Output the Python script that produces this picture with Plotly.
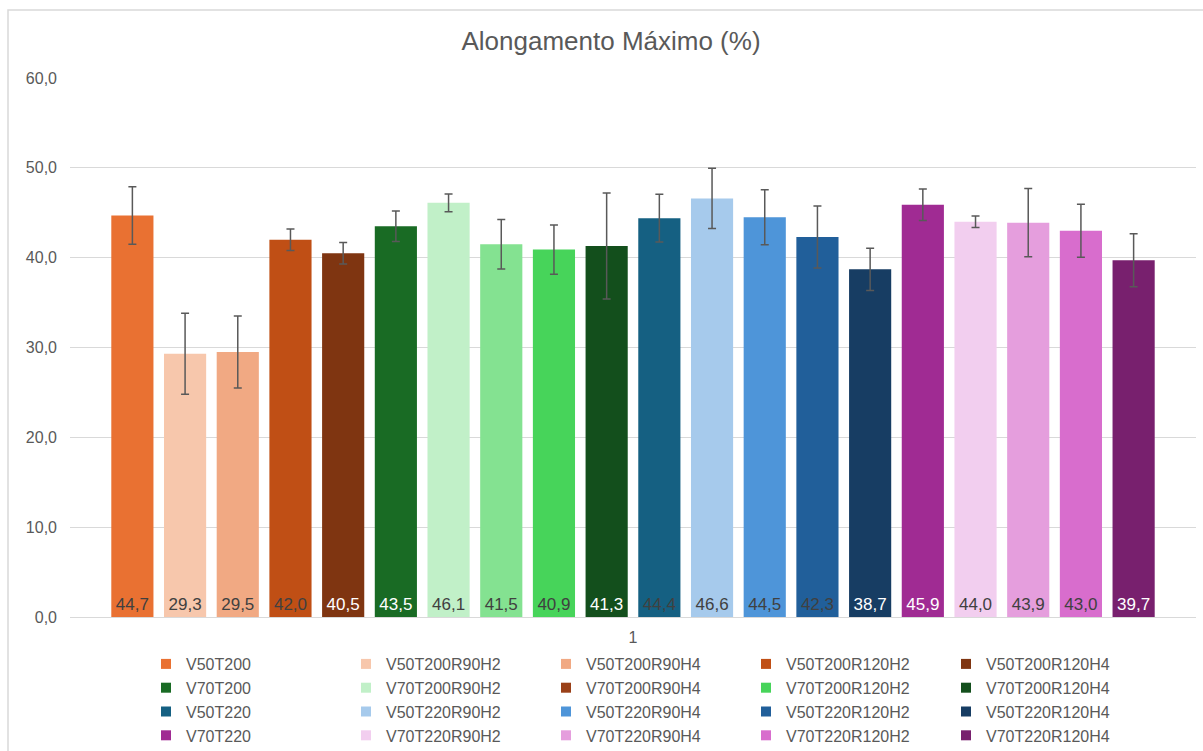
import plotly.graph_objects as go

categories = ["1"]
series_names = [
    "V50T200", "V50T200R90H2", "V50T200R90H4", "V50T200R120H2", "V50T200R120H4",
    "V70T200", "V70T200R90H2", "V70T200R90H4", "V70T200R120H2", "V70T200R120H4",
    "V50T220", "V50T220R90H2", "V50T220R90H4", "V50T220R120H2", "V50T220R120H4",
    "V70T220", "V70T220R90H2", "V70T220R90H4", "V70T220R120H2", "V70T220R120H4",
]
values = [44.7, 29.3, 29.5, 42.0, 40.5,
          43.5, 46.1, 41.5, 40.9, 41.3,
          44.4, 46.6, 44.5, 42.3, 38.7,
          45.9, 44.0, 43.9, 43.0, 39.7]
errors = [3.2, 4.5, 4.0, 1.2, 1.2,
          1.7, 1.0, 2.75, 2.75, 5.9,
          2.65, 3.35, 3.05, 3.45, 2.35,
          1.75, 0.65, 3.8, 2.95, 2.95]
bar_colors = ["#E97132", "#F7C7AC", "#F1A983", "#C04F15", "#7F3511",
              "#196B24", "#C1F0C8", "#84E291", "#47D45A", "#134F1C",
              "#156082", "#A6CAEC", "#4E95D9", "#215F9A", "#173D63",
              "#A02B93", "#F2CEEF", "#E59EDD", "#D86DCD", "#78206E"]
legend_colors = ["#E97132", "#F7C7AC", "#F1A983", "#C04F15", "#7F3511",
                 "#196B24", "#C1F0C8", "#9A4018", "#47D45A", "#134F1C",
                 "#156082", "#A6CAEC", "#4E95D9", "#215F9A", "#173D63",
                 "#A02B93", "#F2CEEF", "#E59EDD", "#D86DCD", "#78206E"]
label_colors = ["#404040", "#404040", "#404040", "#404040", "#FFFFFF",
                "#FFFFFF", "#404040", "#404040", "#404040", "#FFFFFF",
                "#404040", "#404040", "#404040", "#404040", "#FFFFFF",
                "#FFFFFF", "#404040", "#404040", "#404040", "#FFFFFF"]
y_ticks = [0, 10, 20, 30, 40, 50, 60]

FONT = "Liberation Sans, Arial, sans-serif"
GRAY = "#595959"

fig = go.Figure()
for name, v, e, c, lc in zip(series_names, values, errors, bar_colors, label_colors):
    fig.add_trace(go.Bar(
        x=categories, y=[v], name=name, showlegend=False,
        marker=dict(color=c, line=dict(width=0)),
        error_y=dict(type="data", array=[e], color=GRAY, thickness=1.5, width=4),
        text=[v], texttemplate="%{y:.1f}", textposition="inside",
        insidetextanchor="start", textangle=0,
        textfont=dict(color=lc, size=17, family=FONT),
    ))
for name, c in zip(series_names, legend_colors):
    fig.add_trace(go.Scatter(
        x=[None], y=[None], mode="markers", name=name,
        marker=dict(symbol="square", size=10, color=c),
        showlegend=True,
    ))

fig.update_layout(
    width=1203, height=751,
    margin=dict(l=70, r=7, t=78, b=134, autoexpand=False),
    paper_bgcolor="white", plot_bgcolor="white",
    separators=",.",
    barmode="group", bargap=0.064, bargroupgap=0.2,
    font=dict(family=FONT, color=GRAY, size=16),
    title=dict(text="Alongamento Máximo (%)", x=611 / 1203, xanchor="center",
               y=1 - 41 / 751, yanchor="middle", yref="container",
               font=dict(size=26, color=GRAY, family=FONT)),
    legend=dict(orientation="h", x=(146 - 70) / 1126, xanchor="left",
                y=1 - 647 / 751, yanchor="top", yref="container",
                entrywidth=155, entrywidthmode="pixels",
                font=dict(size=16, color=GRAY, family=FONT),
                traceorder="normal"),
    showlegend=True,
)
fig.update_xaxes(type="category", showgrid=False, showline=True,
                 linecolor="#D9D9D9", linewidth=1, automargin=False,
                 ticklabelstandoff=6,
                 tickfont=dict(size=16, color=GRAY), ticks="")
fig.update_yaxes(range=[0, 60], tickvals=y_ticks, tickformat=".1f",
                 showgrid=True, gridcolor="#D9D9D9", gridwidth=1,
                 zeroline=False, showline=False, ticks="", automargin=False,
                 ticklabelstandoff=12,
                 tickfont=dict(size=16, color=GRAY))
fig.add_shape(type="rect", xref="paper", yref="paper",
              x0=(8 - 70) / 1126, x1=(1215 - 70) / 1126,
              y0=-(770 - 617) / 539, y1=(617 - 10) / 539,
              line=dict(color="#D9D9D9", width=1.5), fillcolor="rgba(0,0,0,0)",
              layer="below")

fig.write_html("out.html", config={"displayModeBar": False},
               post_script="document.body.style.margin='0';document.body.style.overflow='hidden';")
